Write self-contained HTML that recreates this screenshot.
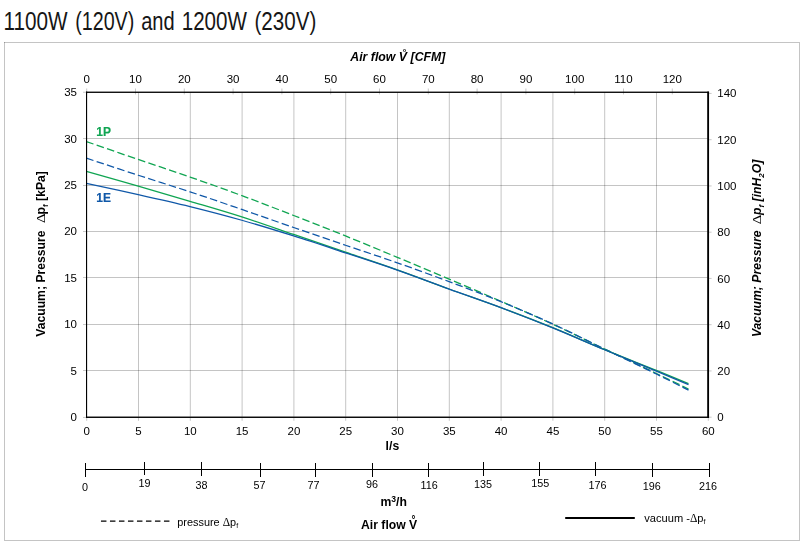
<!DOCTYPE html>
<html lang="en"><head><meta charset="utf-8"><title>1100W (120V) and 1200W (230V)</title>
<style>
html,body{margin:0;padding:0;background:#fff;}
body{width:805px;height:547px;overflow:hidden;position:relative;}
svg{position:absolute;left:0;top:0;display:block;}
svg.chart{will-change:transform;}
svg text{font-family:"Liberation Sans",Arial,Helvetica,sans-serif;fill:#000;}
.tl{font-size:11.5px;}
.b{font-weight:bold;font-size:12.2px;}
.bi{font-weight:bold;font-style:italic;font-size:12.2px;}
</style></head><body>
<svg width="805" height="547" viewBox="0 0 805 547">
<rect x="0" y="0" width="805" height="547" fill="#fff"/>
<text y="30" font-size="25.2" style="fill:#161616"><tspan x="3.5" textLength="64.1" lengthAdjust="spacingAndGlyphs">1100W</tspan> <tspan x="75.2" textLength="59.1" lengthAdjust="spacingAndGlyphs">(120V)</tspan> <tspan x="141.2" textLength="33.5" lengthAdjust="spacingAndGlyphs">and</tspan> <tspan x="181.7" textLength="65.2" lengthAdjust="spacingAndGlyphs">1200W</tspan> <tspan x="254.5" textLength="61.8" lengthAdjust="spacingAndGlyphs">(230V)</tspan></text>
</svg>
<svg class="chart" width="805" height="547" viewBox="0 0 805 547">
<g stroke="#000" stroke-opacity="0.23" stroke-width="1" fill="none" shape-rendering="crispEdges">
<line x1="4" y1="42.5" x2="800" y2="42.5"/>
<line x1="4.5" y1="42" x2="4.5" y2="541"/>
<line x1="799.5" y1="43" x2="799.5" y2="541"/>
<line x1="5" y1="540.5" x2="799" y2="540.5"/>
</g>
<g stroke="#000" stroke-opacity="0.23" stroke-width="1" fill="none">
<line x1="138.50" y1="92.25" x2="138.50" y2="416.85"/>
<line x1="190.30" y1="92.25" x2="190.30" y2="416.85"/>
<line x1="242.10" y1="92.25" x2="242.10" y2="416.85"/>
<line x1="293.90" y1="92.25" x2="293.90" y2="416.85"/>
<line x1="345.70" y1="92.25" x2="345.70" y2="416.85"/>
<line x1="397.50" y1="92.25" x2="397.50" y2="416.85"/>
<line x1="449.30" y1="92.25" x2="449.30" y2="416.85"/>
<line x1="501.10" y1="92.25" x2="501.10" y2="416.85"/>
<line x1="552.90" y1="92.25" x2="552.90" y2="416.85"/>
<line x1="604.70" y1="92.25" x2="604.70" y2="416.85"/>
<line x1="656.50" y1="92.25" x2="656.50" y2="416.85"/>
<line x1="86.70" y1="370.50" x2="708.30" y2="370.50"/>
<line x1="86.70" y1="324.50" x2="708.30" y2="324.50"/>
<line x1="86.70" y1="277.50" x2="708.30" y2="277.50"/>
<line x1="86.70" y1="231.50" x2="708.30" y2="231.50"/>
<line x1="86.70" y1="185.50" x2="708.30" y2="185.50"/>
<line x1="86.70" y1="138.50" x2="708.30" y2="138.50"/>
</g>
<g stroke="#c2c2c2" stroke-width="0.9" fill="none">
<line x1="83.00" y1="417.45" x2="86.00" y2="417.45"/>
<line x1="83.00" y1="370.50" x2="86.00" y2="370.50"/>
<line x1="83.00" y1="324.50" x2="86.00" y2="324.50"/>
<line x1="83.00" y1="277.50" x2="86.00" y2="277.50"/>
<line x1="83.00" y1="231.50" x2="86.00" y2="231.50"/>
<line x1="83.00" y1="185.50" x2="86.00" y2="185.50"/>
<line x1="83.00" y1="138.50" x2="86.00" y2="138.50"/>
<line x1="83.00" y1="92.25" x2="86.00" y2="92.25"/>
<line x1="86.70" y1="417.80" x2="86.70" y2="420.80"/>
<line x1="138.50" y1="417.80" x2="138.50" y2="420.80"/>
<line x1="190.30" y1="417.80" x2="190.30" y2="420.80"/>
<line x1="242.10" y1="417.80" x2="242.10" y2="420.80"/>
<line x1="293.90" y1="417.80" x2="293.90" y2="420.80"/>
<line x1="345.70" y1="417.80" x2="345.70" y2="420.80"/>
<line x1="397.50" y1="417.80" x2="397.50" y2="420.80"/>
<line x1="449.30" y1="417.80" x2="449.30" y2="420.80"/>
<line x1="501.10" y1="417.80" x2="501.10" y2="420.80"/>
<line x1="552.90" y1="417.80" x2="552.90" y2="420.80"/>
<line x1="604.70" y1="417.80" x2="604.70" y2="420.80"/>
<line x1="656.50" y1="417.80" x2="656.50" y2="420.80"/>
<line x1="708.30" y1="417.80" x2="708.30" y2="420.80"/>
<line x1="86.70" y1="88.50" x2="86.70" y2="94.40"/>
<line x1="135.50" y1="88.50" x2="135.50" y2="94.40"/>
<line x1="184.30" y1="88.50" x2="184.30" y2="94.40"/>
<line x1="233.10" y1="88.50" x2="233.10" y2="94.40"/>
<line x1="281.90" y1="88.50" x2="281.90" y2="94.40"/>
<line x1="330.70" y1="88.50" x2="330.70" y2="94.40"/>
<line x1="379.50" y1="88.50" x2="379.50" y2="94.40"/>
<line x1="428.30" y1="88.50" x2="428.30" y2="94.40"/>
<line x1="477.10" y1="88.50" x2="477.10" y2="94.40"/>
<line x1="525.90" y1="88.50" x2="525.90" y2="94.40"/>
<line x1="574.70" y1="88.50" x2="574.70" y2="94.40"/>
<line x1="623.50" y1="88.50" x2="623.50" y2="94.40"/>
<line x1="672.30" y1="88.50" x2="672.30" y2="94.40"/>
<line x1="709.00" y1="417.20" x2="711.60" y2="417.20"/>
<line x1="709.00" y1="370.95" x2="711.60" y2="370.95"/>
<line x1="709.00" y1="324.70" x2="711.60" y2="324.70"/>
<line x1="709.00" y1="278.45" x2="711.60" y2="278.45"/>
<line x1="709.00" y1="232.20" x2="711.60" y2="232.20"/>
<line x1="709.00" y1="185.95" x2="711.60" y2="185.95"/>
<line x1="709.00" y1="139.70" x2="711.60" y2="139.70"/>
<line x1="709.00" y1="93.45" x2="711.60" y2="93.45"/>
</g>
<g fill="none" stroke-width="1.27" stroke-linecap="butt">
<path d="M86.40 141.54 C95.04 144.53 120.94 153.56 138.22 159.47 C155.49 165.39 172.76 171.01 190.03 177.03 C207.30 183.06 224.57 189.21 241.84 195.62 C259.12 202.03 276.39 208.78 293.66 215.50 C310.93 222.22 328.20 228.97 345.48 235.94 C362.75 242.91 380.02 250.12 397.29 257.31 C414.56 264.49 431.83 271.73 449.11 279.05 C466.38 286.37 483.65 293.73 500.92 301.26 C518.19 308.78 535.46 316.24 552.74 324.20 C570.01 332.16 587.28 340.80 604.55 349.01 C621.82 357.22 642.37 366.77 656.36 373.45 C670.36 380.12 683.14 386.45 688.49 389.06" stroke="#10a552" pathLength="650" stroke-dasharray="7.6 3.3"/>
<path d="M86.40 158.17 C95.04 161.02 120.94 169.66 138.22 175.27 C155.49 180.88 172.76 186.11 190.03 191.81 C207.30 197.51 224.57 203.51 241.84 209.46 C259.12 215.41 276.39 221.52 293.66 227.48 C310.93 233.45 328.20 239.35 345.48 245.23 C362.75 251.11 380.02 256.72 397.29 262.79 C414.56 268.86 431.83 275.18 449.11 281.65 C466.38 288.12 483.65 294.58 500.92 301.63 C518.19 308.67 535.46 316.03 552.74 323.93 C570.01 331.82 587.28 340.66 604.55 349.01 C621.82 357.36 642.37 367.14 656.36 374.00 C670.36 380.86 683.14 387.48 688.49 390.17" stroke="#1058a8" pathLength="650" stroke-dasharray="7.6 3.3"/>
<path d="M86.40 171.27 C95.04 173.75 120.94 181.14 138.22 186.14 C155.49 191.14 172.76 196.16 190.03 201.28 C207.30 206.41 224.57 211.36 241.84 216.89 C259.12 222.42 276.39 228.57 293.66 234.45 C310.93 240.34 328.20 246.28 345.48 252.20 C362.75 258.11 380.02 263.81 397.29 269.94 C414.56 276.08 431.83 282.72 449.11 288.99 C466.38 295.26 483.65 301.13 500.92 307.57 C518.19 314.02 535.46 320.63 552.74 327.64 C570.01 334.66 587.28 342.54 604.55 349.66 C621.82 356.78 642.37 364.71 656.36 370.38 C670.36 376.05 683.14 381.45 688.49 383.67" stroke="#10a552"/>
<path d="M86.40 183.45 C95.04 185.30 120.94 190.74 138.22 194.59 C155.49 198.45 172.76 202.31 190.03 206.58 C207.30 210.85 224.57 215.34 241.84 220.24 C259.12 225.13 276.39 230.50 293.66 235.94 C310.93 241.37 328.20 247.15 345.48 252.85 C362.75 258.55 380.02 264.09 397.29 270.13 C414.56 276.17 431.83 282.83 449.11 289.08 C466.38 295.34 483.65 301.21 500.92 307.67 C518.19 314.12 535.46 320.81 552.74 327.83 C570.01 334.84 587.28 342.54 604.55 349.75 C621.82 356.97 642.37 365.32 656.36 371.12 C670.36 376.93 683.14 382.35 688.49 384.60" stroke="#1058a8"/>
</g>
<g fill="#000">
<rect x="86.0" y="91.6" width="1.12" height="326.35"/>
<rect x="86.0" y="91.6" width="623.05" height="1.32"/>
<rect x="707.2" y="91.6" width="1.85" height="326.35"/>
<rect x="86.0" y="416.55" width="623.05" height="1.4"/>
</g>
<text x="96.3" y="136" class="b" style="fill:#10a552;stroke:#10a552;stroke-width:0.15px;font-size:12px">1P</text>
<text x="96.3" y="202" class="b" style="fill:#1058a8;stroke:#1058a8;stroke-width:0.15px;font-size:12px">1E</text>
<text class="tl" x="77.0" y="421" text-anchor="end">0</text>
<text class="tl" x="77.0" y="375" text-anchor="end">5</text>
<text class="tl" x="77.0" y="328" text-anchor="end">10</text>
<text class="tl" x="77.0" y="282" text-anchor="end">15</text>
<text class="tl" x="77.0" y="235" text-anchor="end">20</text>
<text class="tl" x="77.0" y="189" text-anchor="end">25</text>
<text class="tl" x="77.0" y="143" text-anchor="end">30</text>
<text class="tl" x="77.0" y="96" text-anchor="end">35</text>
<text class="tl" x="86.70" y="435" text-anchor="middle">0</text>
<text class="tl" x="138.50" y="435" text-anchor="middle">5</text>
<text class="tl" x="190.30" y="435" text-anchor="middle">10</text>
<text class="tl" x="242.10" y="435" text-anchor="middle">15</text>
<text class="tl" x="293.90" y="435" text-anchor="middle">20</text>
<text class="tl" x="345.70" y="435" text-anchor="middle">25</text>
<text class="tl" x="397.50" y="435" text-anchor="middle">30</text>
<text class="tl" x="449.30" y="435" text-anchor="middle">35</text>
<text class="tl" x="501.10" y="435" text-anchor="middle">40</text>
<text class="tl" x="552.90" y="435" text-anchor="middle">45</text>
<text class="tl" x="604.70" y="435" text-anchor="middle">50</text>
<text class="tl" x="656.50" y="435" text-anchor="middle">55</text>
<text class="tl" x="708.30" y="435" text-anchor="middle">60</text>
<text class="tl" x="86.70" y="83" text-anchor="middle">0</text>
<text class="tl" x="135.50" y="83" text-anchor="middle">10</text>
<text class="tl" x="184.30" y="83" text-anchor="middle">20</text>
<text class="tl" x="233.10" y="83" text-anchor="middle">30</text>
<text class="tl" x="281.90" y="83" text-anchor="middle">40</text>
<text class="tl" x="330.70" y="83" text-anchor="middle">50</text>
<text class="tl" x="379.50" y="83" text-anchor="middle">60</text>
<text class="tl" x="428.30" y="83" text-anchor="middle">70</text>
<text class="tl" x="477.10" y="83" text-anchor="middle">80</text>
<text class="tl" x="525.90" y="83" text-anchor="middle">90</text>
<text class="tl" x="574.70" y="83" text-anchor="middle">100</text>
<text class="tl" x="623.50" y="83" text-anchor="middle">110</text>
<text class="tl" x="672.30" y="83" text-anchor="middle">120</text>
<text class="tl" x="717.3" y="421">0</text>
<text class="tl" x="717.3" y="375">20</text>
<text class="tl" x="717.3" y="329">40</text>
<text class="tl" x="717.3" y="283">60</text>
<text class="tl" x="717.3" y="236">80</text>
<text class="tl" x="717.3" y="190">100</text>
<text class="tl" x="717.3" y="144">120</text>
<text class="tl" x="717.3" y="97">140</text>
<text class="bi" style="font-size:12.3px" x="350.3" y="61.2">Air flow V<tspan font-size="9" font-style="normal" x="402.7" y="54.8">&#176;</tspan><tspan x="407.2" y="61.2"> [CFM]</tspan></text>
<text class="b" x="392.4" y="449.8" text-anchor="middle">l/s</text>
<g fill="#000" shape-rendering="crispEdges">
<rect x="85" y="469" width="625" height="1"/>
<rect x="85" y="463" width="1" height="14"/>
<rect x="144" y="462" width="1" height="13"/>
<rect x="201" y="462" width="1" height="14"/>
<rect x="260" y="463" width="1" height="14"/>
<rect x="315" y="463" width="1" height="14"/>
<rect x="372" y="463" width="1" height="14"/>
<rect x="428" y="463" width="1" height="14"/>
<rect x="483" y="462" width="1" height="14"/>
<rect x="539" y="462" width="1" height="14"/>
<rect x="595" y="462" width="1" height="14"/>
<rect x="652" y="463" width="1" height="14"/>
<rect x="709" y="463" width="1" height="14"/>
</g>
<text class="tl" style="font-size:10.8px" x="84.95" y="491" text-anchor="middle">0</text>
<text class="tl" style="font-size:10.8px" x="144.55" y="487" text-anchor="middle">19</text>
<text class="tl" style="font-size:10.8px" x="201.60" y="489" text-anchor="middle">38</text>
<text class="tl" style="font-size:10.8px" x="259.40" y="489" text-anchor="middle">57</text>
<text class="tl" style="font-size:10.8px" x="313.45" y="489" text-anchor="middle">77</text>
<text class="tl" style="font-size:10.8px" x="372.10" y="488" text-anchor="middle">96</text>
<text class="tl" style="font-size:10.8px" x="429.20" y="489" text-anchor="middle">116</text>
<text class="tl" style="font-size:10.8px" x="483.10" y="488" text-anchor="middle">135</text>
<text class="tl" style="font-size:10.8px" x="540.20" y="487" text-anchor="middle">155</text>
<text class="tl" style="font-size:10.8px" x="597.55" y="489" text-anchor="middle">176</text>
<text class="tl" style="font-size:10.8px" x="651.85" y="490" text-anchor="middle">196</text>
<text class="tl" style="font-size:10.8px" x="708.05" y="490" text-anchor="middle">216</text>
<text class="b" x="380.4" y="506.4">m<tspan font-size="8.6" dy="-4">3</tspan><tspan dy="4">/h</tspan></text>
<text class="b" x="361" y="528.5">Air flow V<tspan font-size="10" x="411.45" y="522.7">&#176;</tspan></text>
<line x1="100.95" y1="521.1" x2="169.5" y2="521.1" stroke="#000" stroke-width="1.4" stroke-dasharray="5.5 3.5"/>
<text class="tl" style="font-size:10.9px" x="177.3" y="526.3">pressure <tspan font-family="Liberation Serif, serif" font-size="11.5">&#916;</tspan>p<tspan font-size="7" dy="2">f</tspan></text>
<line x1="565.2" y1="518" x2="634.8" y2="518" stroke="#000" stroke-width="2"/>
<text class="tl" style="font-size:11.1px" x="644.3" y="522.0">vacuum -<tspan font-family="Liberation Serif, serif" font-size="11.5">&#916;</tspan>p<tspan font-size="7" dy="2">f</tspan></text>
<g transform="translate(45.2 336.8) rotate(-90)">
<text class="b" x="0" y="0">Vacuum; Pressure</text>
<text transform="translate(113.9 0) scale(1.28 1)" x="0" y="0" style="font-family:'Liberation Serif',serif;font-size:11.6px;font-weight:normal;font-style:normal">&#916;</text>
<text class="b" x="122.4" y="0">p<tspan font-size="8" dy="2.5">f</tspan><tspan dy="-2.5"> [kPa]</tspan></text>
</g>
<g transform="translate(761.4 337.1) rotate(-90)">
<text class="bi" x="0" y="0">Vacuum; Pressure</text>
<text transform="translate(112.9 0) scale(1.28 1)" x="0" y="0" style="font-family:'Liberation Serif',serif;font-size:11.6px;font-weight:normal;font-style:normal">&#916;</text>
<text class="bi" x="122.2" y="0">p<tspan font-size="8" dy="2.5">f</tspan><tspan dy="-2.5"> [inH</tspan><tspan font-size="8" dy="2.5">2</tspan><tspan dy="-2.5">O]</tspan></text>
</g>
</svg>
</body></html>
